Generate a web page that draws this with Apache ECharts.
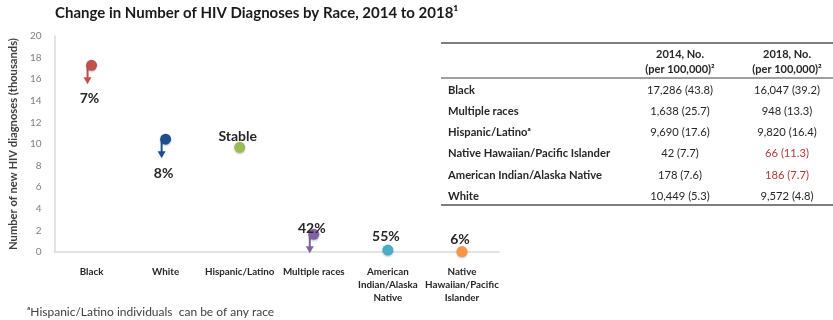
<!DOCTYPE html>
<html>
<head>
<meta charset="utf-8">
<script src="https://cdn.jsdelivr.net/npm/echarts@6/dist/echarts.min.js"></script>
<style>
html,body{margin:0;padding:0;background:#fff;}
#chart{width:833px;height:320px;}
</style>
</head>
<body>
<div id="chart"></div>
<script>
// ---- Data ----
const categories = ['Black', 'White', 'Hispanic/Latino', 'Multiple races', 'American\nIndian/Alaska\nNative', 'Native\nHawaiian/Pacific\nIslander'];
const diag2014 = [17.286, 10.449, 9.690, 1.638, 0.178, 0.042];   // thousands
const diag2018 = [16.047, 9.572, 9.820, 0.948, 0.186, 0.066];    // thousands
const changeLabels = ['7%', '8%', 'Stable', '42%', '55%', '6%'];
const yTicks = [0, 2, 4, 6, 8, 10, 12, 14, 16, 18, 20];

const tableHeaders = ['2014, No.\n(per 100,000)²', '2018, No.\n(per 100,000)²'];
const tableRaces = ['Black', 'Multiple races', 'Hispanic/Latinoᵃ', 'Native Hawaiian/Pacific Islander', 'American Indian/Alaska Native', 'White'];
const table2014 = ['17,286 (43.8)', '1,638 (25.7)', '9,690 (17.6)', '42 (7.7)', '178 (7.6)', '10,449 (5.3)'];
const table2018 = ['16,047 (39.2)', '948 (13.3)', '9,820 (16.4)', '66 (11.3)', '186 (7.7)', '9,572 (4.8)'];

// ---- Styles ----
const FONT = 'Lato, "Open Sans", sans-serif';
const colors = ['#C0504D', '#1F4E8C', '#9BBB59', '#8064A2', '#4BACC6', '#F79646'];
const labelDy = [33, 34, -11, -6, -14, -12];
const highlight2018 = [false, false, false, true, true, false];

const tableRowY = [90, 111, 132, 153, 175, 196];
const graphics = [
  { type: 'text', left: 55, top: 6, style: { text: 'Change in Number of HIV Diagnoses by Race, 2014 to 2018¹', font: 'bold 15px ' + FONT, fill: '#1a1a1a' } },
  { type: 'line', shape: { x1: 441, y1: 43, x2: 833, y2: 43 }, style: { stroke: '#7f7f7f', lineWidth: 2 } },
  { type: 'line', shape: { x1: 441, y1: 78, x2: 833, y2: 78 }, style: { stroke: '#7f7f7f', lineWidth: 1.5 } },
  { type: 'line', shape: { x1: 441, y1: 205, x2: 833, y2: 205 }, style: { stroke: '#7f7f7f', lineWidth: 2 } },
  { type: 'text', x: 27, y: 312, style: { text: 'ᵃHispanic/Latino individuals  can be of any race', font: '12px ' + FONT, fill: '#404040', verticalAlign: 'middle' } }
];
const colX = [680, 787];
tableHeaders.forEach((h, j) => {
  graphics.push({ type: 'text', x: colX[j], y: 62, style: { text: h, font: 'bold 11px ' + FONT, fill: '#262626', align: 'center', verticalAlign: 'middle', lineHeight: 15 } });
});
tableRaces.forEach((r, i) => {
  graphics.push({ type: 'text', x: 448, y: tableRowY[i], style: { text: r, font: 'bold 11.2px ' + FONT, fill: '#262626', verticalAlign: 'middle' } });
  graphics.push({ type: 'text', x: colX[0], y: tableRowY[i], style: { text: table2014[i], font: '11.2px ' + FONT, fill: '#262626', align: 'center', verticalAlign: 'middle' } });
  graphics.push({ type: 'text', x: colX[1], y: tableRowY[i], style: { text: table2018[i], font: '11.2px ' + FONT, fill: highlight2018[i] ? '#B23B36' : '#262626', align: 'center', verticalAlign: 'middle' } });
});

const chart = echarts.init(document.getElementById('chart'), null, { renderer: 'canvas' });
chart.setOption({
  animation: false,
  backgroundColor: '#fff',
  textStyle: { fontFamily: FONT },
  grid: { left: 49, right: 334, top: 36, bottom: 68, containLabel: false },
  xAxis: {
    type: 'category',
    data: categories,
    boundaryGap: true,
    axisLine: { lineStyle: { color: '#d9d9d9', width: 1.5 } },
    axisTick: { show: false },
    axisLabel: { interval: 0, margin: 13, fontSize: 9.8, fontWeight: 'bold', color: '#262626', lineHeight: 13, fontFamily: FONT }
  },
  yAxis: {
    type: 'value',
    min: yTicks[0], max: yTicks[yTicks.length - 1], interval: 2,
    name: 'Number of new HIV diagnoses (thousands)',
    nameLocation: 'middle', nameGap: 28, nameRotate: 90,
    nameTextStyle: { fontSize: 11.2, fontWeight: 'bold', color: '#404040', fontFamily: FONT },
    axisLine: { show: true, lineStyle: { color: '#d9d9d9', width: 1.5 } },
    axisTick: { show: false },
    splitLine: { show: false },
    axisLabel: { fontSize: 10, color: '#7f7f7f', margin: 13, fontFamily: FONT }
  },
  graphic: graphics,
  series: [
    {
      type: 'custom',
      coordinateSystem: 'cartesian2d',
      data: categories.map((c, i) => [i, diag2014[i], diag2018[i]]),
      renderItem: function (params, api) {
        const i = api.value(0);
        const p = api.coord([i, api.value(1)]);
        const col = colors[i];
        const children = [];
        const decrease = api.value(1) - api.value(2) > 0.3;
        if (decrease) {
          const ax = p[0] - 4;
          children.push({ type: 'line', shape: { x1: ax, y1: p[1], x2: ax, y2: p[1] + 13 }, style: { stroke: col, lineWidth: 2 } });
          children.push({ type: 'polygon', shape: { points: [[ax - 4, p[1] + 12], [ax + 4, p[1] + 12], [ax, p[1] + 19]] }, style: { fill: col } });
        }
        children.push({ type: 'circle', shape: { cx: p[0], cy: p[1], r: 5.5 }, style: { fill: col, shadowBlur: 2, shadowColor: 'rgba(0,0,0,0.25)', shadowOffsetY: 1 } });
        children.push({ type: 'text', x: p[0] - 2, y: p[1] + labelDy[i], style: { text: changeLabels[i], font: 'bold 14px ' + FONT, fill: '#262626', align: 'center', verticalAlign: 'middle' } });
        return { type: 'group', children: children };
      },
      z: 5
    }
  ]
});
</script>
</body>
</html>
